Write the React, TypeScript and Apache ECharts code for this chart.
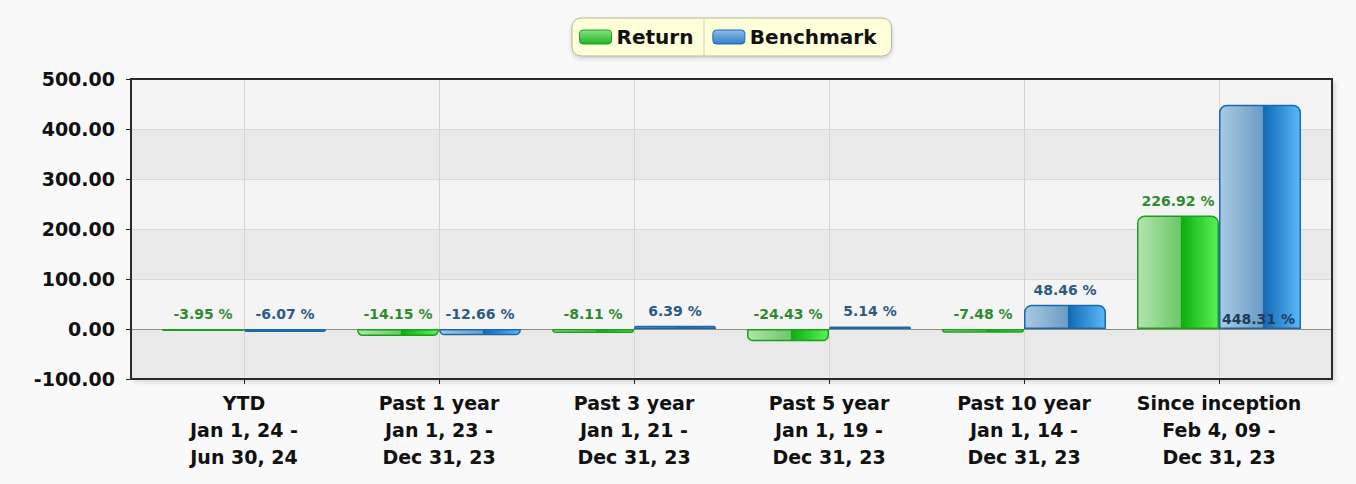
import React, { useEffect, useRef } from "react";
import * as echarts from "echarts";

const periodNames = ["YTD", "Past 1 year", "Past 3 year", "Past 5 year", "Past 10 year", "Since inception"];
const periodStarts = ["Jan 1, 24", "Jan 1, 23", "Jan 1, 21", "Jan 1, 19", "Jan 1, 14", "Feb 4, 09"];
const periodEnds = ["Jun 30, 24", "Dec 31, 23", "Dec 31, 23", "Dec 31, 23", "Dec 31, 23", "Dec 31, 23"];
const returnValues = [-3.95, -14.15, -8.11, -24.43, -7.48, 226.92];
const benchmarkValues = [-6.07, -12.66, 6.39, 5.14, 48.46, 448.31];
const yTicks = { min: -100, max: 500, interval: 100 };

const FONT = "DejaVu Sans";

const greenFill = new echarts.graphic.LinearGradient(0, 0, 1, 0, [
  { offset: 0, color: "#b4e4ae" },
  { offset: 0.53, color: "#6cc86a" },
  { offset: 0.54, color: "#0eae0e" },
  { offset: 1, color: "#58f258" },
]);
const blueFill = new echarts.graphic.LinearGradient(0, 0, 1, 0, [
  { offset: 0, color: "#a9c9e2" },
  { offset: 0.53, color: "#6b9ec6" },
  { offset: 0.54, color: "#1168b6" },
  { offset: 1, color: "#5cb9f6" },
]);
const greenIcon = new echarts.graphic.LinearGradient(0, 0, 0, 1, [
  { offset: 0, color: "#86e486" },
  { offset: 1, color: "#1fb51f" },
]);
const blueIcon = new echarts.graphic.LinearGradient(0, 0, 0, 1, [
  { offset: 0, color: "#8cc0ea" },
  { offset: 1, color: "#2f7fc8" },
]);

function barData(values: number[], special?: (i: number) => any) {
  return values.map((v, i) => {
    const item: any = {
      value: v,
      itemStyle: { borderRadius: v >= 0 ? [7, 7, 0, 0] : [0, 0, 5, 5] },
    };
    const extra = special ? special(i) : null;
    if (extra) Object.assign(item, extra);
    return item;
  });
}

export default function App() {
  const ref = useRef<HTMLDivElement>(null);
  useEffect(() => {
    document.body.style.margin = "0";
    if (!ref.current) return;
    const chart = echarts.init(ref.current, null, { renderer: "svg" });
    const categories = periodNames.map((n, i) => `${n}\n${periodStarts[i]} -\n${periodEnds[i]}`);
    const labelFmt = (p: any) => `${Number(p.value).toFixed(2)} %`;
    chart.setOption({
      animation: false,
      backgroundColor: "#f9f9f9",
      textStyle: { fontFamily: FONT },
      legend: {
        left: 572,
        top: 18,
        itemWidth: 32,
        itemHeight: 14,
        itemGap: 19,
        padding: [9, 15, 9, 7],
        backgroundColor: "#ffffd9",
        borderColor: "#b5b59c",
        borderWidth: 1,
        borderRadius: 9,
        shadowColor: "rgba(0,0,0,0.18)",
        shadowBlur: 4,
        shadowOffsetY: 2,
        textStyle: { fontFamily: FONT, fontSize: 20, fontWeight: "bold", color: "#111" },
        data: [
          { name: "Return", itemStyle: { color: greenIcon, borderColor: "#1e9e1e", borderWidth: 1 } },
          { name: "Benchmark", itemStyle: { color: blueIcon, borderColor: "#1b69b3", borderWidth: 1 } },
        ],
      },
      graphic: [
        {
          type: "rect",
          z: -1,
          shape: { x: 131, y: 79, width: 1201, height: 300 },
          style: { fill: "#f4f4f4", shadowColor: "rgba(0,0,0,0.15)", shadowBlur: 4, shadowOffsetX: 3, shadowOffsetY: 3 },
        },
        {
          type: "line",
          z: 100,
          shape: { x1: 704, y1: 19, x2: 704, y2: 57 },
          style: { stroke: "#cfcfb8", lineWidth: 1 },
        },
      ],
      grid: [
        {
          left: 131,
          top: 79,
          width: 1201,
          height: 300,
          show: true,
          z: 3,
          backgroundColor: "transparent",
          borderColor: "#2a2a2a",
          borderWidth: 2,
        },
        { left: 146.5, top: 79, width: 1170, height: 300 },
      ],
      xAxis: [
        {
          gridIndex: 0,
          type: "value",
          min: 0,
          max: 1,
          axisLine: { show: true, onZero: true, lineStyle: { color: "#8f8f78", width: 1 } },
          axisTick: { show: false },
          axisLabel: { show: false },
          splitLine: { show: false },
        },
        {
          gridIndex: 1,
          type: "category",
          data: categories,
          position: "bottom",
          axisLine: { show: false, onZero: false },
          axisTick: { show: true, alignWithLabel: true, length: 5, lineStyle: { color: "#222" } },
          axisLabel: {
            fontFamily: FONT,
            fontSize: 19,
            fontWeight: "bold",
            color: "#111",
            lineHeight: 27,
            margin: 10,
            interval: 0,
          },
          splitLine: { show: true, alignWithLabel: true, lineStyle: { color: "#d4d4d4", width: 1 } },
        },
      ],
      yAxis: [
        {
          gridIndex: 0,
          type: "value",
          min: yTicks.min,
          max: yTicks.max,
          interval: yTicks.interval,
          axisLine: { show: true, lineStyle: { color: "#222", width: 2 } },
          axisTick: { show: true, length: 5, lineStyle: { color: "#222" } },
          axisLabel: {
            fontFamily: FONT,
            fontSize: 19,
            fontWeight: "bold",
            color: "#111",
            margin: 16,
            formatter: (v: number) => v.toFixed(2),
          },
          splitLine: { show: true, lineStyle: { color: "#d9d9d9" } },
          splitArea: { show: true, areaStyle: { color: ["#e9e9e9", "#f4f4f4"] } },
        },
        {
          gridIndex: 1,
          type: "value",
          min: yTicks.min,
          max: yTicks.max,
          show: false,
          splitLine: { show: false },
        },
      ],
      series: [
        {
          name: "Return",
          type: "bar",
          xAxisIndex: 1,
          yAxisIndex: 1,
          barWidth: 82,
          barGap: "0%",
          z: 2,
          itemStyle: { color: greenFill, borderColor: "#1e9e1e", borderWidth: 1.5 },
          label: {
            show: true,
            position: "top",
            distance: 8,
            fontFamily: FONT,
            fontSize: 14,
            fontWeight: "bold",
            color: "#2f8a2f",
            formatter: labelFmt,
          },
          data: barData(returnValues),
        },
        {
          name: "Benchmark",
          type: "bar",
          xAxisIndex: 1,
          yAxisIndex: 1,
          barWidth: 82,
          barGap: "0%",
          z: 2,
          itemStyle: { color: blueFill, borderColor: "#1b69b3", borderWidth: 1.5 },
          label: {
            show: true,
            position: "top",
            distance: 8,
            fontFamily: FONT,
            fontSize: 14,
            fontWeight: "bold",
            color: "#2c5a82",
            formatter: labelFmt,
          },
          data: barData(benchmarkValues, (i) =>
            i === benchmarkValues.length - 1
              ? { label: { position: "insideBottomLeft", distance: 3, color: "#1d3b5c" } }
              : null
          ),
        },
      ],
    });
    return () => chart.dispose();
  }, []);
  return <div ref={ref} style={{ width: 1356, height: 484 }} />;
}
